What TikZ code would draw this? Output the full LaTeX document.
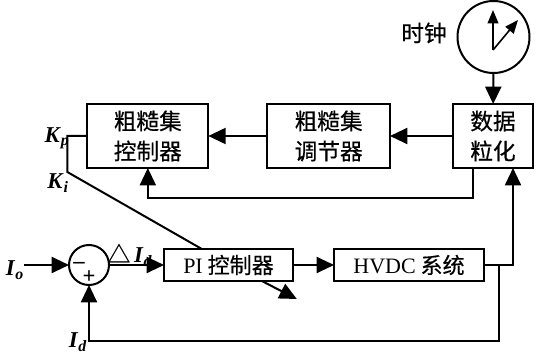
\documentclass[tikz,border=0pt]{standalone}
\usepackage{xcolor}
\usepackage{fontspec}
\setmainfont{Liberation Serif}
\newfontfamily\cjk[FakeBold=0.5]{Noto Sans CJK SC}
\newcommand{\sysvar}[2]{\textbf{\textit{#1}}\textsubscript{\textbf{\textit{#2}}}}
\usetikzlibrary{arrows.meta,positioning}
\tikzset{
  sys box/.style={
    rectangle,
    draw=black,
    line width=1.5pt,
    outer sep=0pt,
    inner sep=0pt,
    align=center,
  },
  big box/.style={
    sys box,
    minimum height=48pt,
    font=\cjk\fontsize{17}{22.5}\selectfont,
  },
  flat box/.style={
    sys box,
    minimum height=24pt,
    font=\cjk\fontsize{16.5}{18}\selectfont,
  },
  sys ring/.style={circle, draw=black, line width=1.5pt, outer sep=0pt, inner sep=0pt},
  sys label/.style={inner sep=0pt, font=\fontsize{17}{19}\selectfont},
  sys arrow/.style={-{Triangle[length=13pt,width=12pt]}, line width=1.5pt},
  hand arrow/.style={-{Triangle[length=10pt,width=8pt]}, line width=1.2pt},
  sys line/.style={line width=1.5pt},
}
\begin{document}
\begin{tikzpicture}[x=0.75pt,y=0.75pt]
  \useasboundingbox (0,0) rectangle (536,-353);
  \node[big box,minimum width=60pt] (data) at (493,-136) {数据\\粒化};
  \node[big box,minimum width=92pt,left=47.25pt of data] (adjust) {粗糙集\\调节器};
  \node[big box,minimum width=90.75pt,left=44.25pt of adjust] (rough) {粗糙集\\控制器};
  \node[sys ring,minimum size=54pt] (clock) at (493.5,-37) {};
  \coordinate (hub) at (493,-50);
  \node[inner sep=0pt,font=\cjk\fontsize{17}{19}\selectfont] (clocktext) at (424,-33) {时钟};
  \node[sys ring,minimum size=30pt] (sum) at (89,-265) {};
  \node[flat box,minimum width=96.75pt] (pi) at (228.5,-265) {{\rmfamily PI} 控制器};
  \node[flat box,minimum width=112.5pt,right=30.75pt of pi] (hvdc) {{\rmfamily HVDC} 系统};
  \node[sys label] (io) at (15,-270) {\sysvar{I}{o}};
  \node[sys label] (id) at (78,-342) {\sysvar{I}{d}};
  \node[sys label] (kp) at (57,-138) {\sysvar{K}{p}};
  \node[sys label] (ki) at (58,-183) {\sysvar{K}{i}};
  \node[sys label] (did) at (130,-255) {{\cjk △}\,\sysvar{I}{d}};
  \node[inner sep=0pt,font=\fontsize{17}{19}\selectfont] (minus) at (79,-265) {\textbf{--}};
  \node[inner sep=0pt,font=\fontsize{17}{19}\selectfont] (plus) at (89,-277) {\textbf{+}};
  \draw[hand arrow] (hub) -- (493,-10);
  \draw[hand arrow] (hub) -- (518,-20);
  \draw[sys arrow] (clock) -- (data);
  \draw[sys arrow] (data) -- (adjust);
  \draw[sys arrow] (adjust) -- (rough);
  \draw[sys arrow] ([xshift=-15pt]data.south) -- ++(0,-30) -| (rough.south);
  \draw[sys arrow] (io.east |- sum) -- (sum);
  \draw[sys arrow] (sum) -- (pi);
  \draw[sys arrow] (pi) -- (hvdc);
  \draw[sys arrow] (hvdc.east) -| ([xshift=15pt]data.south);
  \draw[sys arrow] ([xshift=11.25pt]hvdc.east) -- ++(0,-76) -| (sum.south);
  \draw[sys line] (rough.west) -- ++(-20,0) -- ++(0,-36) -- ([xshift=-20pt]pi.north);
  \draw[sys arrow] ([xshift=25pt]pi.south) -- ++(35,-18);
\end{tikzpicture}
\end{document}
